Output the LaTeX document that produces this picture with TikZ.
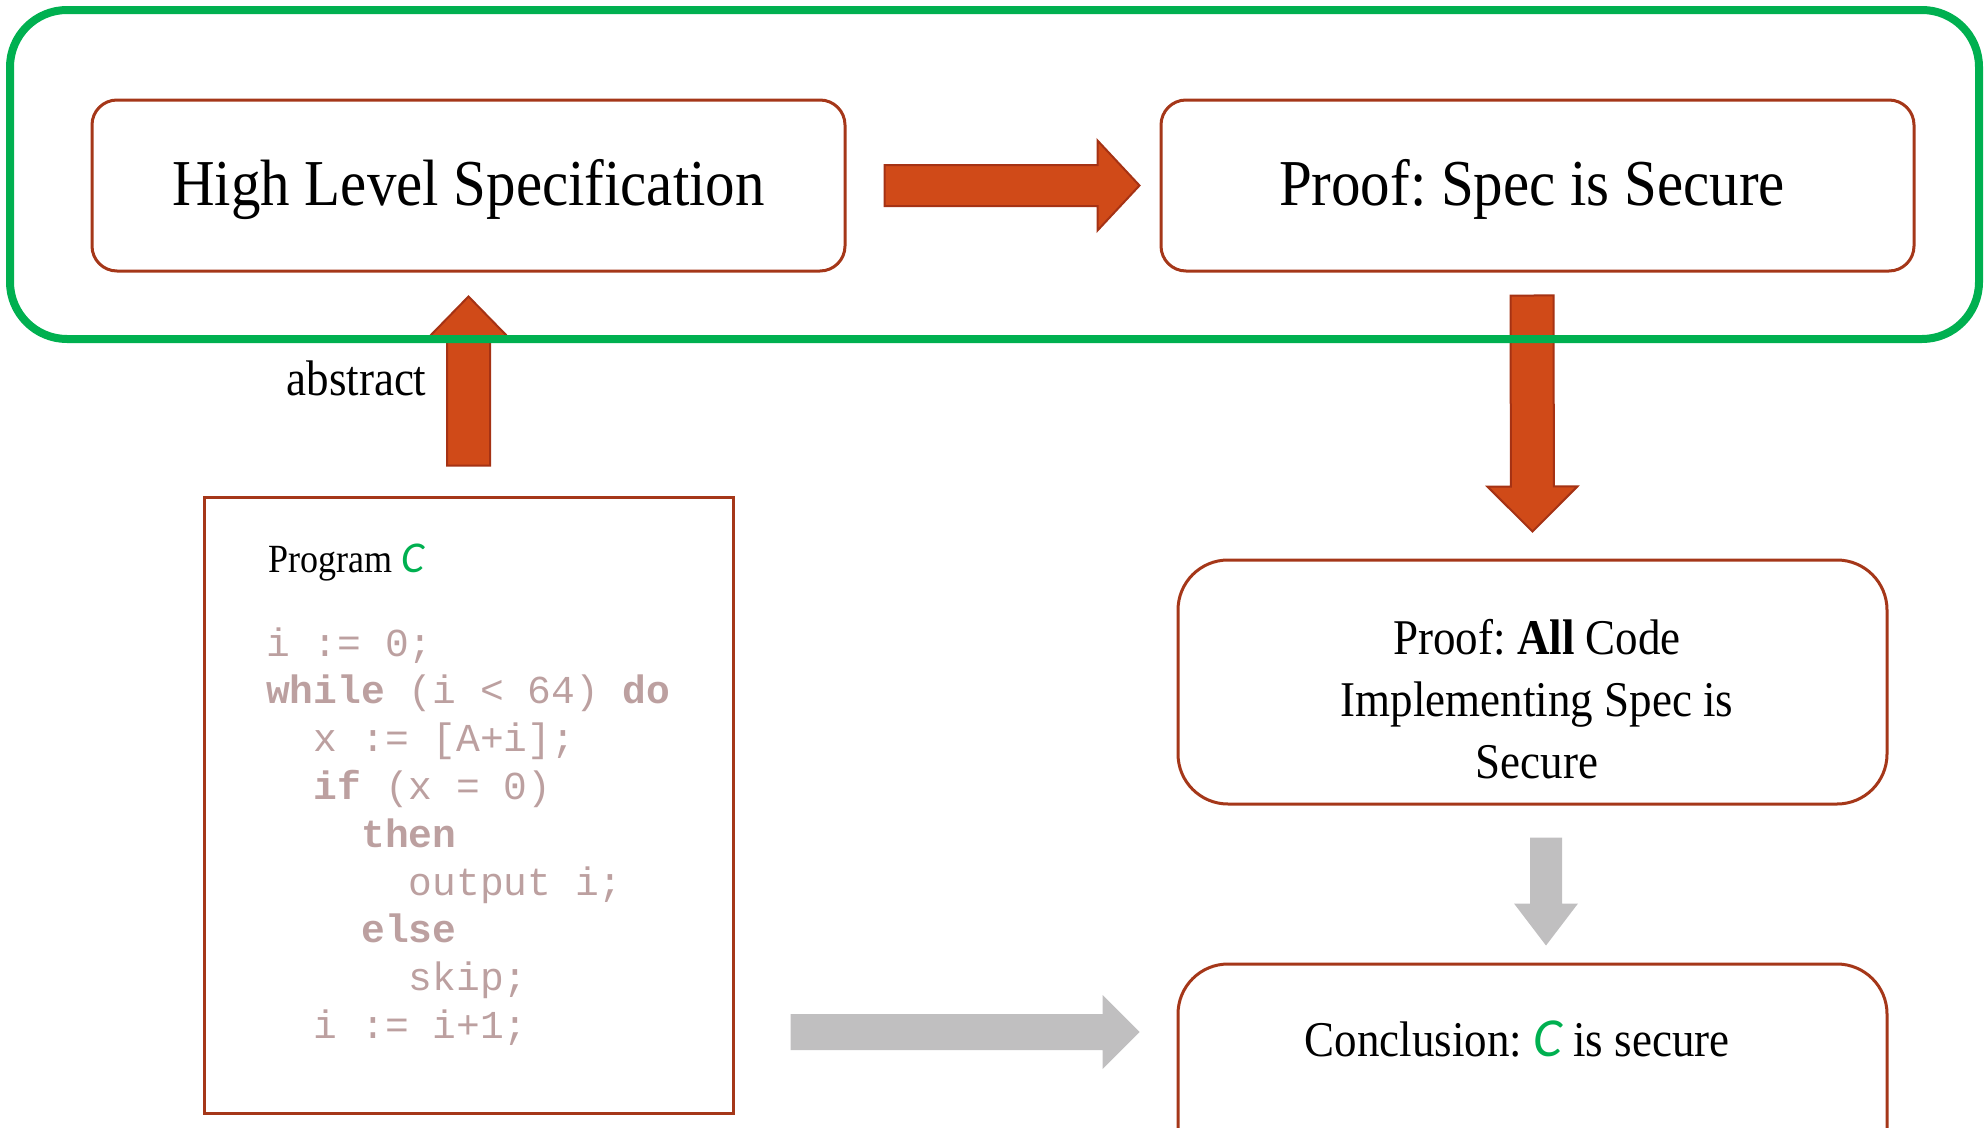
\documentclass[tikz,border=0pt]{standalone}
\usepackage{fontspec}
\setmainfont{Liberation Serif}[FakeStretch=0.9]
\setmonofont{Liberation Mono}
\newfontfamily\cfont{Carlito}
\usetikzlibrary{calc}
\definecolor{arrfill}{RGB}{208,74,24}
\definecolor{arrline}{RGB}{165,50,20}
\definecolor{boxline}{RGB}{165,55,25}
\definecolor{grn}{RGB}{0,176,80}
\definecolor{grayarr}{RGB}{192,191,192}
\definecolor{codecol}{RGB}{188,160,160}
\frenchspacing
\newcommand\blockarr[6]{%
  \coordinate (hb) at ($(#2)!#5pt!(#1)$);
  \draw[#6] ($(#1)!#3pt!90:(#2)$) -- ($(hb)!#3pt!-90:(#1)$) -- ($(hb)!#4pt!-90:(#1)$) -- (#2)
    -- ($(hb)!#4pt!90:(#1)$) -- ($(hb)!#3pt!90:(#1)$) -- ($(#1)!#3pt!-90:(#2)$) -- cycle;
}
\newcommand\greenC{\textcolor{grn}{\cfont\itshape\scalebox{1.1}{C}}}
\tikzset{
  specbox/.style={draw=boxline, line width=3pt, rounded corners=25pt, minimum width=753pt,
    minimum height=171pt, inner sep=0pt},
  spectext/.style={anchor=base, inner sep=0pt, font=\fontsize{65.5}{78}\selectfont},
  roundbox/.style={draw=boxline, line width=3pt, rounded corners=50pt, minimum width=709pt,
    minimum height=244pt, inner sep=0pt},
  progbox/.style={draw=boxline, line width=3pt, minimum width=529pt, minimum height=616pt, inner sep=0pt},
  midtext/.style={font=\fontsize{50}{62}\selectfont, align=center, inner sep=0pt},
  codeline/.style={anchor=base west, inner sep=0pt, text=codecol, font=\ttfamily\fontsize{39.6}{47.8}\selectfont},
  redarr/.style={fill=arrfill, draw=arrline, line width=2pt},
  grayarrow/.style={fill=grayarr, draw=none},
  grpbox/.style={draw=grn, line width=8pt, rounded corners=57pt, minimum width=1969pt,
    minimum height=329pt, inner sep=0pt}
}
\begin{document}
\begin{tikzpicture}[x=1pt,y=-1pt]
\useasboundingbox (0,0) rectangle (1986,1127);
% boxes
\node[specbox] (hls) at (468.5,185.5) {};
\node[spectext] (hlst) at (468.5,205) {High Level Specification};
\node[specbox] (pss) at (1537.5,185.5) {};
\node[spectext] (psst) at (1532,205) {Proof: Spec is Secure};
\node[progbox] (prog) at (468.5,805) {};
\node[roundbox] (pac) at (1532.5,682) {};
\node[midtext] (pact) at (1537,699) {Proof: \textbf{All} Code\\Implementing Spec is\\Secure};
\node[roundbox] (concl) at (1532.5,1086) {};
\node[midtext, anchor=base] (conclt) at (1517,1056) {Conclusion: \greenC{} is secure};
% program text
\node[anchor=base west, inner sep=0pt, font=\fontsize{40}{48}\selectfont] (progt) at (268,572) {Program \greenC};
\foreach \t [count=\i] in {
  {i := 0;},
  {\textbf{while} (i < 64) \textbf{do}},
  {~~x := [A+i];},
  {~~\textbf{if} (x = 0)},
  {~~~~\textbf{then}},
  {~~~~~~output i;},
  {~~~~\textbf{else}},
  {~~~~~~skip;},
  {~~i := i+1;}}
  \node[codeline] (c\i) at (266,{656+(\i-1)*47.8}) {\t};
% label
\node[anchor=base, inner sep=0pt, font=\fontsize{50}{60}\selectfont] (abs) at (356.5,395) {abstract};
% arrow end points
\coordinate (r1s) at ($(hls.east)+(38,0)$);
\coordinate (r1t) at ($(pss.west)+(-20,0)$);
\coordinate (u1s) at ($(prog.north)+(0,-30)$);
\coordinate (u1t) at ($(hls.south)+(0,24)$);
\coordinate (d1s) at ($(pss.south)+(-5.5,23)$);
\coordinate (d1t) at ($(pac.north)+(0,-27)$);
\coordinate (g1s) at ($(pac.south)+(13.5,32)$);
\coordinate (g1t) at ($(concl.north)+(13.5,-17)$);
\coordinate (g2s) at ($(prog.east|-conclt.base)+(56,-24)$);
\coordinate (g2t) at ($(concl.west|-conclt.base)+(-37,-24)$);
% arrows
\blockarr{r1s}{r1t}{20.5}{45}{42}{redarr}
\blockarr{u1s}{u1t}{21.5}{41}{42}{redarr}
\blockarr{d1s}{d1t}{21.5}{45}{45}{redarr}
\blockarr{g1s}{g1t}{16}{32}{42}{grayarrow}
\blockarr{g2s}{g2t}{18}{37}{37}{grayarrow}
% green group frame
\node[grpbox] (grp) at (994.5,174.5) {};
\end{tikzpicture}
\end{document}
